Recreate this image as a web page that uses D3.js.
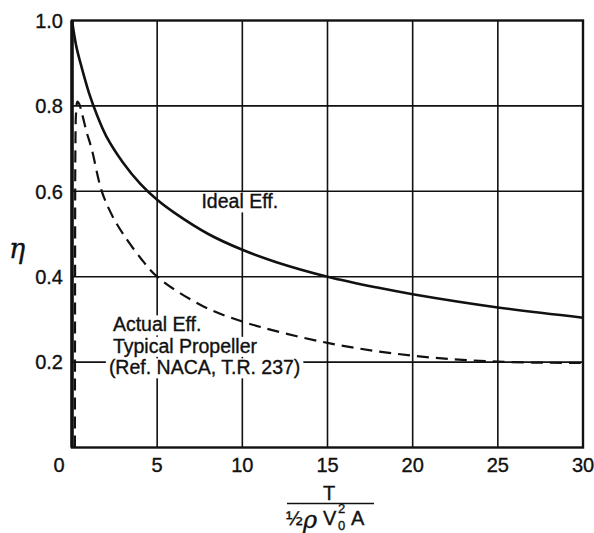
<!DOCTYPE html>
<html>
<head>
<meta charset="utf-8">
<script src="https://cdn.jsdelivr.net/npm/d3@7"></script>
<style>
  body { margin: 0; background: #fff; }
  text { font-family: "Liberation Sans", Arial, sans-serif; fill: #111; stroke: #111; stroke-width: 0.35px; }
</style>
</head>
<body>
<div id="chart"></div>
<script>
// thrust coefficient values on the x axis
var xTicks = [0, 5, 10, 15, 20, 25, 30];
var yTicks = [0.2, 0.4, 0.6, 0.8, 1.0];
var yTickLabels = ["0.2", "0.4", "0.6", "0.8", "1.0"];

// ideal efficiency curve
var idealX = [0, 0.25, 0.5, 1, 1.5, 2, 3, 4, 5, 6, 8, 10, 12, 15, 18, 20, 25, 30];
var idealY = [1.0, 0.94, 0.9, 0.83, 0.775, 0.73, 0.667, 0.618, 0.58, 0.55, 0.5, 0.463, 0.434, 0.4, 0.374, 0.359, 0.328, 0.304];

// actual efficiency, typical propeller
var actualX = [0.17, 0.18, 0.2, 0.24, 0.32, 0.42, 0.6, 0.85, 1.15, 1.75, 2.4, 3, 4, 5, 7.5, 10, 15, 20, 25, 30];
var actualY = [0, 0.4, 0.7, 0.785, 0.81, 0.805, 0.78, 0.74, 0.7, 0.6, 0.54, 0.5, 0.445, 0.4, 0.335, 0.295, 0.245, 0.215, 0.201, 0.198];

var actualLabel = ["Actual Eff.", "Typical Propeller", "(Ref. NACA, T.R. 237)"];

window.onload = function() {
  main();
};

function main() {
  var width = 594, height = 533;
  var margin = { top: 20.5, right: 11, bottom: 85.5, left: 72 };
  var w = width - margin.left - margin.right;
  var h = height - margin.top - margin.bottom;

  var svg = d3.select("#chart").append("svg")
    .attr("width", width)
    .attr("height", height);

  var g = svg.append("g")
    .attr("transform", "translate(" + margin.left + "," + margin.top + ")");

  var x = d3.scaleLinear().domain([0, 30]).range([0, w]);
  var y = d3.scaleLinear().domain([0, 1]).range([h, 0]);

  // grid lines
  g.selectAll(".vgrid").data(xTicks.slice(1, -1)).enter().append("line")
    .attr("x1", function(d) { return x(d); })
    .attr("x2", function(d) { return x(d); })
    .attr("y1", 0).attr("y2", h)
    .attr("stroke", "#111").attr("stroke-width", 1.6);

  g.selectAll(".hgrid").data(yTicks.slice(0, -1)).enter().append("line")
    .attr("x1", 0).attr("x2", w)
    .attr("y1", function(d) { return y(d); })
    .attr("y2", function(d) { return y(d); })
    .attr("stroke", "#111").attr("stroke-width", 1.6);

  // curves
  var line = d3.line().curve(d3.curveCatmullRom.alpha(0.5));

  g.append("path")
    .attr("d", line(idealX.map(function(d, i) { return [x(d), y(idealY[i])]; })))
    .attr("fill", "none").attr("stroke", "#111").attr("stroke-width", 2.6);

  g.append("path")
    .attr("d", line(actualX.map(function(d, i) { return [x(d), y(actualY[i])]; })))
    .attr("fill", "none").attr("stroke", "#111").attr("stroke-width", 2.2)
    .attr("stroke-dasharray", "12,7");

  // labels with white background that cut the grid
  function boxedText(tx, ty, str) {
    var t = g.append("text").attr("x", tx).attr("y", ty)
      .style("font-size", "19.5px").text(str);
    var b = t.node().getBBox();
    g.insert("rect", function() { return t.node(); })
      .attr("x", b.x - 3).attr("y", b.y + 2)
      .attr("width", b.width + 6).attr("height", b.height - 2)
      .attr("fill", "#fff");
  }

  boxedText(x(7.6), y(0.56), "Ideal Eff.");
  actualLabel.forEach(function(s, i) {
    boxedText(x(2.4) - (i == 2 ? 4 : 0), y(0.272) + i * 21.5, s);
  });

  // frame
  g.append("rect")
    .attr("x", 0).attr("y", 0).attr("width", w).attr("height", h)
    .attr("fill", "none").attr("stroke", "#111").attr("stroke-width", 2.4);
  g.append("line")
    .attr("x1", 0).attr("x2", 0).attr("y1", 0).attr("y2", h)
    .attr("stroke", "#111").attr("stroke-width", 3.5);

  // tick labels
  g.selectAll(".ylab").data(yTicks).enter().append("text")
    .attr("x", -9)
    .attr("y", function(d) { return y(d); })
    .attr("dy", "0.36em")
    .attr("text-anchor", "end")
    .style("font-size", "20px")
    .text(function(d, i) { return yTickLabels[i]; });

  g.selectAll(".xlab").data(xTicks).enter().append("text")
    .attr("x", function(d) { return d == 0 ? x(d) - 13 : x(d); })
    .attr("y", h + 24)
    .attr("text-anchor", "middle")
    .style("font-size", "20px")
    .text(function(d) { return d; });

  // y axis title
  svg.append("text")
    .attr("x", 17).attr("y", 258)
    .attr("text-anchor", "middle")
    .style("font-family", "'DejaVu Serif', serif")
    .style("font-style", "italic")
    .style("font-size", "27px")
    .text("η");

  // x axis title as a fraction
  svg.append("text").attr("x", 329).attr("y", 500)
    .attr("text-anchor", "middle").style("font-size", "20px").text("T");
  svg.append("line").attr("x1", 287).attr("x2", 374).attr("y1", 503.5).attr("y2", 503.5)
    .attr("stroke", "#111").attr("stroke-width", 1.6);
  svg.append("text").attr("x", 286).attr("y", 525)
    .style("font-size", "20px").text("½");
  svg.append("text").attr("x", 303).attr("y", 528)
    .style("font-family", "'DejaVu Serif', serif").style("font-style", "italic")
    .style("font-size", "24px").text("ρ");
  svg.append("text").attr("x", 323).attr("y", 525)
    .style("font-size", "20px").text("V");
  svg.append("text").attr("x", 338).attr("y", 513)
    .style("font-size", "13px").text("2");
  svg.append("text").attr("x", 338).attr("y", 530)
    .style("font-size", "13px").text("0");
  svg.append("text").attr("x", 351).attr("y", 525)
    .style("font-size", "20px").text("A");
}
</script>
</body>
</html>
